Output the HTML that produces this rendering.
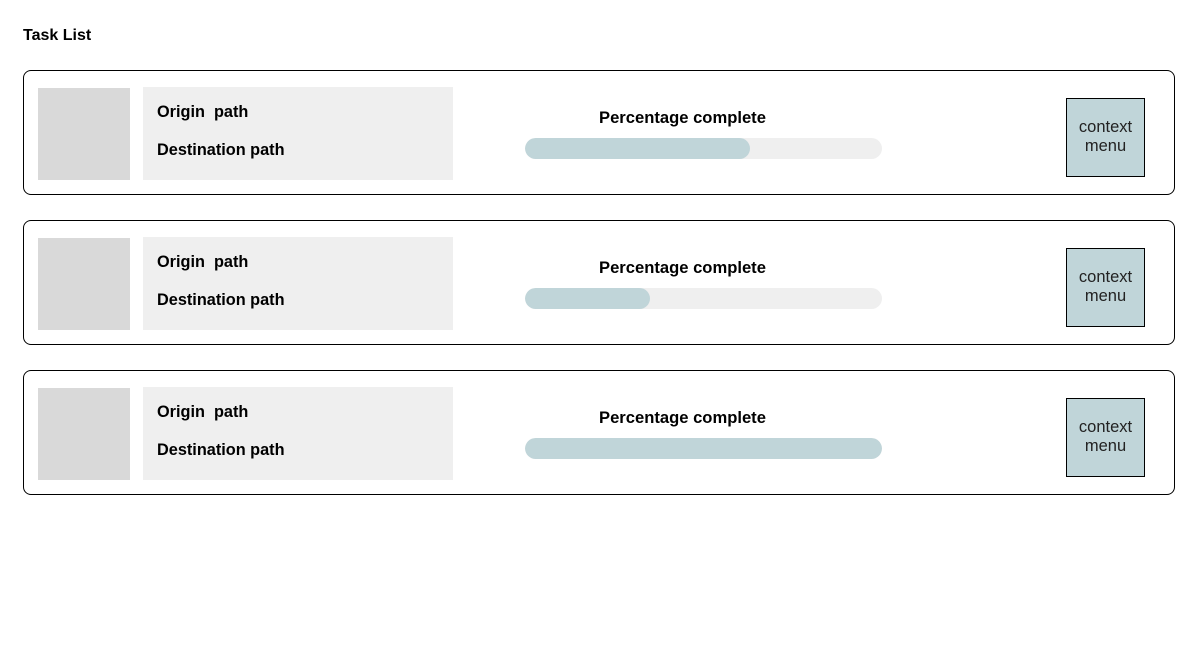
<!DOCTYPE html>
<html><head><meta charset="utf-8">
<style>
*{box-sizing:border-box;margin:0;padding:0}
body{width:1202px;height:655px;background:#fff;font-family:"Liberation Sans",sans-serif;position:relative;overflow:hidden;color:#000}
.title{position:absolute;left:23px;top:27px;font-size:16px;font-weight:bold}
.card{position:absolute;left:23px;width:1152px;height:125px;border:1px solid #000;border-radius:8px}
.thumb{position:absolute;left:14px;top:17px;width:92px;height:92px;background:#d9d9d9}
.paths{position:absolute;left:119px;top:16px;width:310px;height:93px;background:#efefef}
.paths div{position:absolute;left:14px;font-size:16.3px;font-weight:bold;white-space:pre}
.pct{position:absolute;left:575px;top:37px;font-size:16.6px;font-weight:bold}
.track{position:absolute;left:501px;top:67px;width:357px;height:21px;border-radius:11px;background:#efefef;overflow:hidden}
.fill{position:absolute;left:0;top:0;height:21px;border-radius:11px;background:#c0d5d9}
.menu{position:absolute;left:1042px;top:27px;width:79px;height:79px;background:#c0d5d9;border:1px solid #000;font-size:16.5px;text-align:center;line-height:19px;padding-top:19px;color:#222}
</style></head><body>
<div class="title">Task List</div>
<div id="list"></div>
<script>
const progressValues=[63,35,100];
const originLabels=["Origin  path","Origin  path","Origin  path"];
const destLabels=["Destination path","Destination path","Destination path"];
const list=document.getElementById('list');
progressValues.forEach((v,i)=>{
  const c=document.createElement('div');c.className='card';c.style.top=(70+i*150)+'px';
  
  
  c.innerHTML='<div class="thumb"></div>'+
  '<div class="paths"><div style="top:16px">'+originLabels[i]+'</div><div style="top:54px">'+destLabels[i]+'</div></div>'+
  '<div class="pct">Percentage complete</div>'+
  '<div class="track"><div class="fill" style="width:'+(v/100*357)+'px"></div></div>'+
  '<div class="menu">context<br>menu</div>';
  list.appendChild(c);
});
</script>
</body></html>
